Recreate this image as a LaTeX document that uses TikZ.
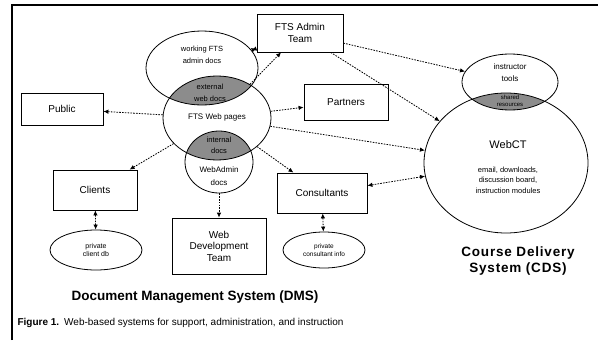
\documentclass[tikz,border=0pt]{standalone}
\usepackage{fontspec}
\setmainfont{Liberation Sans}
\usetikzlibrary{arrows.meta,shapes.geometric}
\tikzset{>={Latex[length=5pt,width=4.5pt]}}
\tikzset{
	unit/.style={draw,thick,minimum width=#1,align=center,font=\fontsize{10}{11.5}\selectfont},
	store/.style={draw,thick,ellipse,inner sep=0pt,align=center,font=\fontsize{7}{8}\selectfont},
	lens/.style={fill=black!45},
	link/.style={dash pattern=on 1.6pt off 1.2pt,thick},
	title/.style={font=\fontsize{13.5}{15.5}\selectfont\bfseries,align=center}
}

\begin{document}
\begin{tikzpicture}[x=1pt,y=-1pt]
	\useasboundingbox (0,0) rectangle (602,340);
	\draw[very thick] (12,340) -- (12,5) -- (598,5);

	% shaded overlaps
	\begin{scope}
		\clip (202,68) ellipse (56 and 37);
		\fill[lens] (217,118) ellipse (54 and 42);
	\end{scope}
	\begin{scope}
		\clip (217,118) ellipse (54 and 42);
		\fill[lens] (219,162) ellipse (34 and 31);
	\end{scope}
	\begin{scope}
		\clip (510,82) ellipse (48 and 28);
		\fill[lens] (506,163) ellipse (82 and 70);
	\end{scope}

	\node[store,minimum width=112pt,minimum height=74pt] (working) at (202,68) {};
	\node[store,minimum width=108pt,minimum height=84pt] (pages) at (217,118) {};
	\node[store,minimum width=68pt,minimum height=62pt] (webadmin) at (219,162) {};
	\node[store,minimum width=96pt,minimum height=56pt] (tools) at (510,82) {};
	\node[store,minimum width=164pt,minimum height=140pt] (webct) at (506,163) {};
	\node[store,minimum width=92pt,minimum height=40pt] (clientdb) at (96,250) {private\\client db};
	\node[store,minimum width=82pt,minimum height=36pt,font=\fontsize{6.5}{7.5}\selectfont] (consultdb) at (324,250) {private\\consultant info};

	\node[align=center,font=\fontsize{7.5}{12}\selectfont] at (202,55) {working FTS\\admin docs};
	\node[align=center,font=\fontsize{7.5}{12}\selectfont] at (210,93) {external\\web docs};
	\node[font=\fontsize{8}{9}\selectfont] at (217,117) {FTS Web pages};
	\node[align=center,font=\fontsize{7.5}{11}\selectfont] at (219,145) {internal\\docs};
	\node[align=center,font=\fontsize{8}{13}\selectfont] at (219,176) {WebAdmin\\docs};
	\node[align=center,font=\fontsize{8}{12}\selectfont] at (510,73) {instructor\\tools};
	\node[align=center,font=\fontsize{6}{7.5}\selectfont] at (510,101) {shared\\resources};
	\node[font=\fontsize{11}{12}\selectfont] at (508,145) {WebCT};
	\node[align=center,font=\fontsize{7.5}{10.5}\selectfont] at (508,180) {email, downloads,\\discussion board,\\instruction modules};

	\node[unit=86pt,minimum height=38pt] (admin) at (300,33) {FTS Admin\\Team};
	\node[unit=82pt,minimum height=32pt] (public) at (62,109) {Public};
	\node[unit=84pt,minimum height=36pt] (partners) at (346,102) {Partners};
	\node[unit=84pt,minimum height=40pt] (clients) at (95,190) {Clients};
	\node[unit=94pt,minimum height=56pt] (webdev) at (219,246) {Web\\Development\\Team};
	\node[unit=90pt,minimum height=40pt] (consult) at (322,193) {Consultants};

	\draw[link,->] (pages) -- (public);
	\draw[link,->] (pages) -- (partners);
	\draw[link,->] (pages) -- (clients);
	\draw[link,->] (pages) -- (consult);
	\draw[link,->] (webadmin) -- (webdev);
	\draw[link,<->] (clients) -- (clientdb);
	\draw[link,<->] (consult) -- (consultdb);
	\draw[link,<->] (working) -- (admin);
	\draw[link,->] (pages) -- (admin);
	\draw[link,->] (admin) -- (tools);
	\draw[link,->] (admin) -- (webct);
	\draw[link,->] (pages) -- (webct);
	\draw[link,<->] (consult) -- (webct);

	\node[title] (dms) at (195,297) {Document Management System (DMS)};
	\node[title,font=\fontsize{13.5}{15.5}\selectfont\bfseries\addfontfeature{LetterSpace=6}] (cds) at (518,261) {Course Delivery\\System (CDS)};
	\node[anchor=west,font=\fontsize{10}{11}\selectfont] (caption) at (14,323) {\textbf{Figure 1.}\enspace Web-based systems for support, administration, and instruction};
\end{tikzpicture}
\end{document}
